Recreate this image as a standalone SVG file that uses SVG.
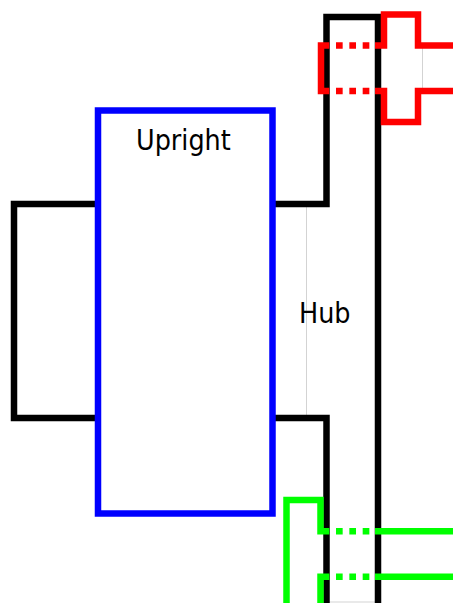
<svg xmlns="http://www.w3.org/2000/svg" width="453" height="603" viewBox="0 0 453 603">
<style>
.k{fill:none;stroke:#000;stroke-width:6.500}
.r{fill:none;stroke:#f00;stroke-width:6.500}
.g{fill:none;stroke:#0f0;stroke-width:6.500}
.d{stroke-dasharray:6.67 6.67}
.t{fill:none;stroke:#d3d3d3;stroke-width:1}
text{font-family:"DejaVu Sans",sans-serif;font-size:29px;fill:#000}
</style>
<rect width="453" height="603" fill="#fff"/>
<g id="connectors">
<path class="t" d="M306.500 204V418"/>
<path class="t" d="M422.500 45V91"/>
<path class="t" d="M326.500 602H378"/>
</g>
<g id="hub">
<path class="k" d="M275 204H326.500V17H378V603"/>
<path class="k" d="M275 418H326.500V603"/>
<g transform="translate(299 322.500) scale(.88 1)"><text>Hub</text></g>
</g>
<g id="axle">
<path class="k" d="M98 204H14V418H98"/>
</g>
<g id="upright">
<rect x="98" y="110.500" width="174.500" height="403" fill="none" stroke="#00f" stroke-width="6.500"/>
<g transform="translate(136 150) scale(.88 1)"><text>Upright</text></g>
</g>
<g id="red-part">
<path class="r" d="M329.300 45.500H321V91H329.300"/>
<path class="r d" d="M336 45.500H375.500"/>
<path class="r d" d="M336 91H375.500"/>
<path class="r" d="M375 45.500H384V14.500H418V45.500H453"/>
<path class="r" d="M375 91H384V122H418V91H453"/>
</g>
<g id="green-part">
<path class="g" d="M286.500 603V500H320.500V531.300H329.300"/>
<path class="g d" d="M336 531.300H375.500"/>
<path class="g" d="M375 531.300H453"/>
<path class="g" d="M320.500 603V576.700H329.300"/>
<path class="g d" d="M336 576.700H375.500"/>
<path class="g" d="M375 576.700H453"/>
</g>
</svg>
